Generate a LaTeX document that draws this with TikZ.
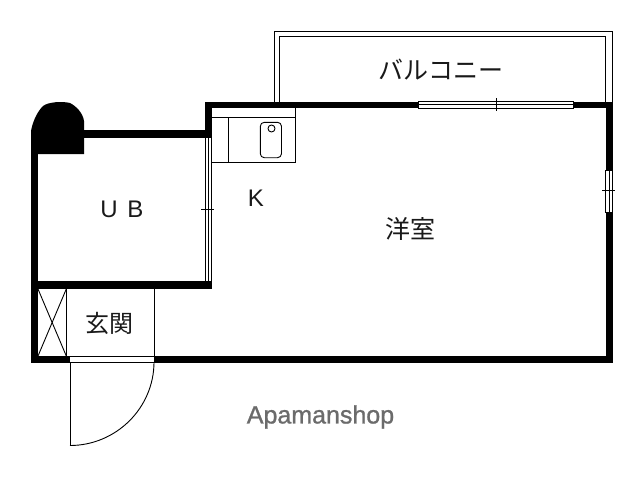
\documentclass[tikz,border=0pt]{standalone}
\usepackage{fontspec}
\setmainfont{Liberation Sans}
\newfontfamily\cjk{Noto Sans CJK JP}
\newfontfamily\apafont[FakeBold=1]{Liberation Sans}
\tikzset{
  wall/.style={fill=black,draw=none},
  thin line/.style={draw=black,line width=0.9pt},
  lbl/.style={inner sep=0pt,text=black!90},
}
\begin{document}
\begin{tikzpicture}[x=1pt,y=-1pt]
\useasboundingbox (0,0) rectangle (640,480);
\fill[white] (0,0) rectangle (640,480);
% balcony
\draw[thin line] (274,102) -- (274,31) -- (612,31) -- (612,102);
\draw[thin line] (279,102) -- (279,36.7) -- (605.5,36.7) -- (605.5,102);
% walls
\fill[wall] (205,101.5) rectangle (612.5,108);
\fill[wall] (605.5,101.5) rectangle (612.5,362.5);
\fill[wall] (31,356) rectangle (70,362.5);
\fill[wall] (154,356) rectangle (612.5,362.5);
\fill[wall] (31,130) rectangle (38,362.5);
\fill[wall] (31,130) rectangle (212,138);
\fill[wall] (205,101.5) rectangle (212,138);
\fill[wall] (31,281) rectangle (212,289);
% blob
\fill[wall] (31,154) -- (31,131) .. controls (33,120) and (38,111) .. (43,106) .. controls (48,102) and (62,101) .. (70,103) .. controls (76,106) and (83,113) .. (84,121) -- (84,154) -- cycle;
% UB / K window
\fill[white] (205.5,138) rectangle (211.5,281);
\draw[thin line] (205.5,138) -- (205.5,281);
\draw[thin line] (208.5,138) -- (208.5,281);
\draw[thin line] (211.5,138) -- (211.5,281);
\draw[thin line] (201,209) -- (214,209);
% top window
\fill[white] (418,101.5) rectangle (573,108);
\draw[thin line] (418,101.5) rectangle (573,108);
\draw[thin line] (418,104.7) -- (573,104.7);
\draw[thin line] (496,98) -- (496,111);
% right window
\fill[white] (605.5,170) rectangle (612.5,212);
\draw[thin line] (605.5,170) rectangle (612.5,212);
\draw[thin line] (609,170) -- (609,212);
\draw[thin line] (602,190) -- (615,190);
% kitchen
\draw[thin line] (212,117.3) -- (295.5,117.3);
\draw[thin line] (295.5,108) -- (295.5,162.3) -- (212,162.3);
\draw[thin line] (228.7,117.3) -- (228.7,162.3);
\draw[thin line,rounded corners=4pt] (260.3,122.3) rectangle (281.5,157.7);
\draw[thin line] (271.5,128.5) circle (3.5);
% closet
\draw[thin line] (66.3,289) -- (66.3,356);
\draw[thin line] (38,289) -- (66.3,356);
\draw[thin line] (66.3,289) -- (38,356);
% entrance
\draw[thin line] (154,289) -- (154,362);
\draw[thin line] (70,356.5) -- (154,356.5);
\draw[thin line] (70,362) -- (154,362);
\draw[thin line] (70,362) -- (70,445.5);
\draw[thin line] (70,445.5) .. controls (116,445.5) and (154,408) .. (154,362);
% text
\node[lbl,font=\cjk\fontsize{25}{25}\selectfont] (balc) at (441,70) {バルコニー};
\node[lbl,font=\fontsize{24}{24}\selectfont] (ub) at (122,209) {U\hspace{3pt} B};
\node[lbl,font=\fontsize{24}{24}\selectfont] (k) at (256,198) {K};
\node[lbl,font=\cjk\fontsize{25}{25}\selectfont] (yo) at (410,229) {洋室};
\node[lbl,font=\cjk\fontsize{24}{24}\selectfont] (gen) at (109,323) {玄関};
\node[inner sep=0pt,text=black!58,font=\apafont\fontsize{25}{25}\selectfont] (apa) at (320.5,417) {Apamanshop};
\end{tikzpicture}
\end{document}
